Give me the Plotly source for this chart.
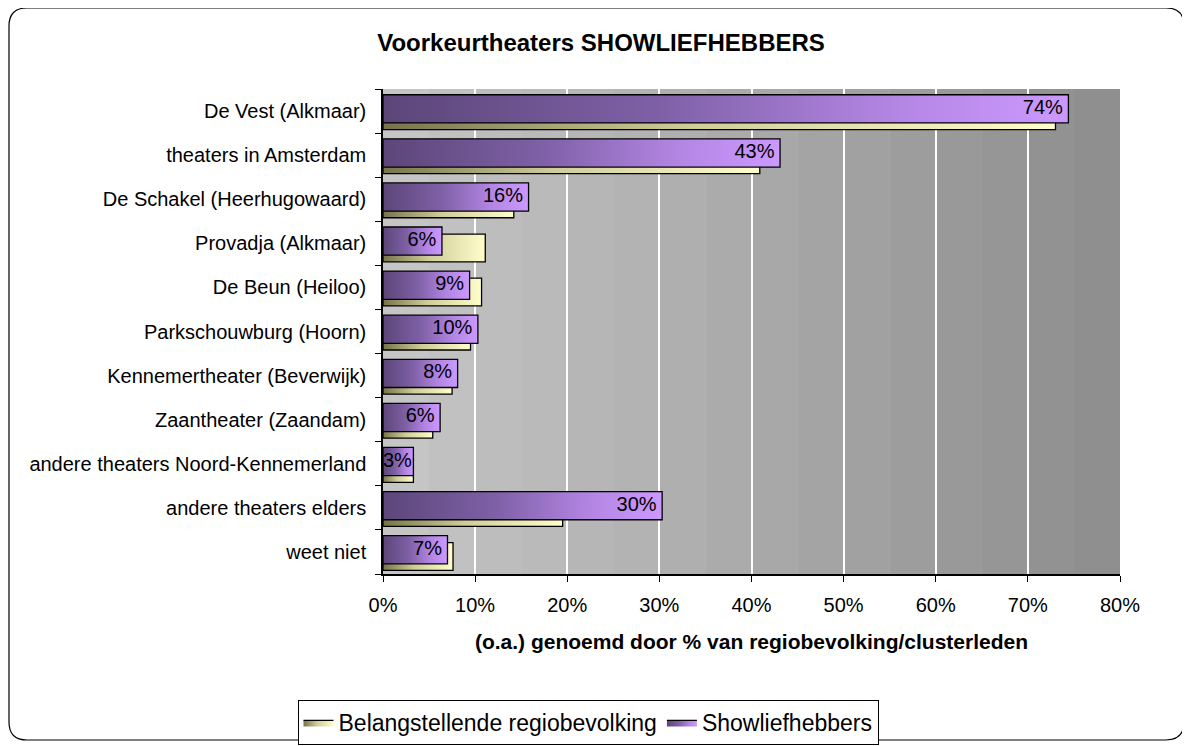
import plotly.graph_objects as go

# data (percent)
categories = ["De Vest (Alkmaar)", "theaters in Amsterdam", "De Schakel (Heerhugowaard)",
              "Provadja (Alkmaar)", "De Beun (Heiloo)", "Parkschouwburg (Hoorn)",
              "Kennemertheater (Beverwijk)", "Zaantheater (Zaandam)",
              "andere theaters Noord-Kennemerland", "andere theaters elders", "weet niet"]
regio = [73.0, 40.9, 14.2, 11.1, 10.7, 9.5, 7.5, 5.4, 3.3, 19.5, 7.6]
show = [74.4, 43.1, 15.8, 6.4, 9.4, 10.3, 8.1, 6.2, 3.3, 30.3, 7.0]
x_ticks = [0, 10, 20, 30, 40, 50, 60, 70, 80]

# page body has an 8px margin, so the figure sits 8px in from the window corner
W, H = 1182, 738
ML, MR, MT, MB = 375, 70, 81, 172
PW, PH = W - ML - MR, H - MT - MB
FONT = "Liberation Sans, Arial, sans-serif"

yellow_scale = [[0, "#77744c"], [0.45, "#cfcc98"], [1, "#ffffcc"]]
purple_scale = [[0, "#5c4679"], [0.4, "#7e60a6"], [0.75, "#b486e4"], [1, "#cc99ff"]]


def bar_trace(value, pos, top, bottom, scale, name, first):
    # one horizontal bar as a filled polygon so it can carry a gradient
    return go.Scatter(
        x=[0, value, value, 0, 0],
        y=[pos + top, pos + top, pos + bottom, pos + bottom, pos + top],
        mode="lines", fill="toself",
        fillgradient=dict(type="horizontal", colorscale=scale, start=0, stop=value),
        line=dict(color="black", width=1.3),
        name=name, legendgroup=name, showlegend=first, hoverinfo="skip")


fig = go.Figure()

for i, v in enumerate(regio):
    fig.add_trace(bar_trace(v, i, -0.21, 0.42, yellow_scale,
                            "Belangstellende regiobevolking", i == 0))
for i, v in enumerate(show):
    fig.add_trace(bar_trace(v, i, -0.37, 0.27, purple_scale, "Showliefhebbers", i == 0))

# value labels: inside the bar end, or from the bar start when the bar is too short
short = [v < 4 for v in show]
fig.add_trace(go.Scatter(
    x=[0 if s else v for v, s in zip(show, short)],
    y=[i - 0.05 for i in range(len(show))],
    text=[f"{round(v)}%" if s else f"{round(v)}%\u00a0" for v, s in zip(show, short)],
    mode="text", textposition=["middle right" if s else "middle left" for s in short],
    textfont=dict(family=FONT, size=20, color="black"),
    showlegend=False, hoverinfo="skip"))

# grey banded plot background (Excel style gradient)
shapes = []
n_bands = 16
for k in range(n_bands):
    g = int(197 - (197 - 143) * k / (n_bands - 1))
    shapes.append(dict(type="rect", xref="x domain", yref="y domain", layer="below",
                       x0=k / n_bands, x1=(k + 1) / n_bands, y0=0, y1=1,
                       fillcolor=f"rgb({g},{g},{g})", line=dict(width=0)))


def px(x):
    return (x - ML) / PW


def py(y):
    return (H - MB - y) / PH


# rounded outer chart border
x0, x1, y0, y1, r = 1, 1176, 0, 732, 18
path = (f"M {px(x0 + r)},{py(y0)} L {px(x1 - r)},{py(y0)} Q {px(x1)},{py(y0)} {px(x1)},{py(y0 + r)} "
        f"L {px(x1)},{py(y1 - r)} Q {px(x1)},{py(y1)} {px(x1 - r)},{py(y1)} "
        f"L {px(x0 + r)},{py(y1)} Q {px(x0)},{py(y1)} {px(x0)},{py(y1 - r)} "
        f"L {px(x0)},{py(y0 + r)} Q {px(x0)},{py(y0)} {px(x0 + r)},{py(y0)} Z")
shapes.append(dict(type="path", xref="paper", yref="paper", path=path,
                   line=dict(color="black", width=1.2), layer="above"))

fig.update_layout(
    width=W, height=H,
    margin=dict(l=ML, r=MR, t=MT, b=MB, autoexpand=False),
    paper_bgcolor="white", plot_bgcolor="#c0c0c0",
    font=dict(family=FONT, size=20, color="black"),
    title=dict(text="<b>Voorkeurtheaters SHOWLIEFHEBBERS</b>", x=593 / W, xref="container",
               xanchor="center", y=1 - 35 / H, yref="container", yanchor="middle",
               font=dict(family=FONT, size=24, color="black")),
    xaxis=dict(range=[0, 80], tickvals=x_ticks, ticktext=[f"{t}%" for t in x_ticks],
               showgrid=True, gridcolor="white", gridwidth=2,
               showline=True, linecolor="black", linewidth=1.5,
               ticks="outside", ticklen=6, tickcolor="black", ticklabelstandoff=6,
               tickfont=dict(size=20), zeroline=False, fixedrange=True,
               title=dict(text="<b>(o.a.) genoemd door % van regiobevolking/clusterleden</b>",
                          font=dict(size=21), standoff=20)),
    yaxis=dict(range=[10.5, -0.5], tickvals=list(range(len(categories))), ticktext=categories,
               showgrid=False, zeroline=False, showline=True, linecolor="black", linewidth=1.5,
               ticks="", ticklabelstandoff=11, tickfont=dict(size=20),
               minor=dict(ticks="outside", tick0=-0.5, dtick=1, ticklen=6, tickcolor="black",
                          showgrid=False)),
    legend=dict(orientation="h", xref="container", x=580 / W, xanchor="center",
                yref="container", y=1 - 692 / H, yanchor="top",
                bgcolor="white", bordercolor="black", borderwidth=1,
                font=dict(size=23), traceorder="normal", itemwidth=30),
    shapes=shapes,
)

fig.write_html("out.html")
